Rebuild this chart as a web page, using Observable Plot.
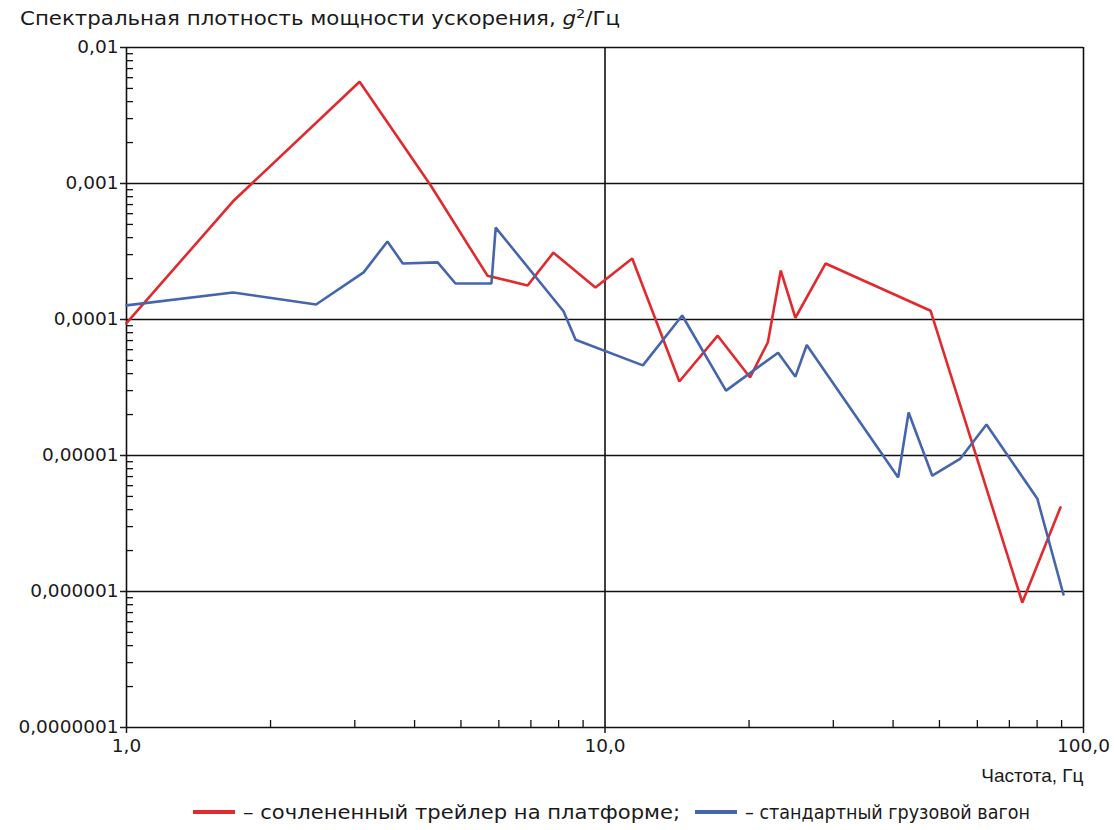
<!DOCTYPE html>
<html>
<head>
<meta charset="utf-8">
<script src="https://cdn.jsdelivr.net/npm/d3@7"></script>
<script src="https://cdn.jsdelivr.net/npm/@observablehq/plot@0.6"></script>
<style>
  html, body { margin: 0; padding: 0; background: #fff; }
  body { width: 1114px; height: 830px; overflow: hidden; font-family: "DejaVu Sans", "Liberation Sans", sans-serif; color: #1a1a1a; position: relative; }
  #title { height: 36px; line-height: 36px; padding-left: 20px; font-size: 19px; white-space: nowrap; }
  #title span { display: inline-block; transform-origin: 0 50%; }
  #title sup { font-size: 13px; line-height: 0; vertical-align: 7px; }
  #legend { position: relative; height: 30px; font-size: 19px; white-space: nowrap; }
  #legend .sw { position: absolute; top: 10px; width: 42px; height: 4px; }
  #legend .lt { position: absolute; top: 0; line-height: 24px; transform-origin: 0 50%; display: inline-block; }
  svg { display: block; }
</style>
</head>
<body>
<div id="title"><span id="titletext">Спектральная плотность мощности ускорения, <i>g</i><sup>2</sup>/Гц</span></div>
<div id="chart"></div>
<div id="legend"></div>
<script>
// --- data ---
const seriesNames = ["сочлененный трейлер на платформе", "стандартный грузовой вагон"];
const seriesColors = ["#e2292e", "#4565ad"];

const redFreq = [1.0, 1.67, 3.07, 4.32, 5.68, 6.89, 7.8, 9.55, 11.4, 14.3, 17.2, 20.1, 21.9, 23.3, 25.0, 28.9, 47.9, 74.5, 89.5];
const redPsd  = [9.4e-5, 7.4e-4, 5.6e-3, 9.7e-4, 2.1e-4, 1.78e-4, 3.1e-4, 1.72e-4, 2.81e-4, 3.5e-5, 7.6e-5, 3.75e-5, 6.8e-5, 2.29e-4, 1.03e-4, 2.58e-4, 1.16e-4, 8.3e-7, 4.15e-6];

const blueFreq = [1.0, 1.67, 2.49, 3.13, 3.51, 3.78, 4.47, 4.87, 5.79, 5.91, 8.19, 8.68, 12.0, 14.5, 17.9, 23.0, 25.0, 26.4, 41.0, 43.1, 48.3, 55.3, 62.7, 80.1, 90.8];
const bluePsd  = [1.27e-4, 1.58e-4, 1.29e-4, 2.22e-4, 3.75e-4, 2.58e-4, 2.63e-4, 1.84e-4, 1.84e-4, 4.74e-4, 1.15e-4, 7.1e-5, 4.6e-5, 1.07e-4, 3.0e-5, 5.7e-5, 3.8e-5, 6.5e-5, 6.9e-6, 2.07e-5, 7.1e-6, 9.5e-6, 1.69e-5, 4.8e-6, 9.5e-7];

const yTicks = [1e-2, 1e-3, 1e-4, 1e-5, 1e-6, 1e-7];
const yTickLabels = ["0,01", "0,001", "0,0001", "0,00001", "0,000001", "0,0000001"];
const xTicks = [1, 10, 100];
const xTickLabels = ["1,0", "10,0", "100,0"];
const xLabel = "Частота, Гц";
const minorMultipliers = [2, 3, 4, 5, 6, 7, 8, 9];

// --- build ---
const rows = [
  ...redFreq.map((f, i) => ({f, v: redPsd[i], s: seriesNames[0]})),
  ...blueFreq.map((f, i) => ({f, v: bluePsd[i], s: seriesNames[1]}))
];
const yMinor = yTicks.slice(1).flatMap(d => minorMultipliers.map(m => d * m));
const xMinor = xTicks.slice(0, -1).flatMap(d => minorMultipliers.map(m => d * m));
const near = (a, b) => Math.abs(Math.log10(a) - Math.log10(b)) < 1e-6;

const W = 1114, H = 764;
const mL = 126, mR = 31, mT = 11, mB = 73;
const pw = W - mL - mR, ph = H - mT - mB;
const font = "'DejaVu Sans', 'Liberation Sans', sans-serif";

const chart = Plot.plot({
  width: W, height: H,
  marginLeft: mL, marginRight: mR, marginTop: mT, marginBottom: mB,
  style: {fontSize: "18.5px", fontFamily: font, color: "#1a1a1a", background: "#fff", overflow: "visible"},
  x: {type: "log", domain: [1, 100]},
  y: {type: "log", domain: [1e-7, 1e-2]},
  color: {domain: seriesNames, range: seriesColors},
  marks: [
    Plot.ruleY(yTicks, {stroke: "#111", strokeWidth: 1.6}),
    Plot.ruleX(xTicks, {stroke: "#111", strokeWidth: 1.6}),
    Plot.tickY(yMinor, {y: d => d, stroke: "#111", strokeWidth: 1.3, insetRight: pw - 7}),
    Plot.tickX(xMinor, {x: d => d, stroke: "#111", strokeWidth: 1.3, insetTop: ph - 7}),
    Plot.axisY({ticks: yTicks, tickFormat: d => yTickLabels[yTicks.findIndex(t => near(t, d))], tickSize: 6, tickPadding: 2, strokeWidth: 1.5, fontSize: 18.5, label: null}),
    Plot.axisX({ticks: xTicks, tickFormat: d => xTickLabels[xTicks.findIndex(t => near(t, d))], tickSize: 6, tickPadding: 5, strokeWidth: 1.5, fontSize: 18.5, label: null}),
    Plot.text([xLabel], {frameAnchor: "bottom-right", dy: 48, textAnchor: "end", lineAnchor: "middle", fontSize: 19, fontFamily: "'Liberation Sans', Arial, sans-serif"}),
    Plot.line(rows, {x: "f", y: "v", z: "s", stroke: "s", strokeWidth: 2.6, strokeLinejoin: "miter"})
  ]
});
document.getElementById("chart").appendChild(chart);

function fit(el, target) {
  const w = el.getBoundingClientRect().width;
  if (w > 0) el.style.transform = `scaleX(${target / w})`;
}
fit(document.getElementById("titletext"), 600);

// legend (positions are layout styling only)
const legend = document.getElementById("legend");
const legendLayout = [{sw: 193, text: 243, width: 437}, {sw: 695, text: 745, width: 285}];
seriesNames.forEach((name, i) => {
  const sw = document.createElement("span");
  sw.className = "sw";
  sw.style.left = legendLayout[i].sw + "px";
  sw.style.background = seriesColors[i];
  legend.appendChild(sw);
  const t = document.createElement("span");
  t.className = "lt";
  t.style.left = legendLayout[i].text + "px";
  t.textContent = "– " + name + (i === 0 ? ";" : "");
  legend.appendChild(t);
  fit(t, legendLayout[i].width);
});
</script>
</body>
</html>
